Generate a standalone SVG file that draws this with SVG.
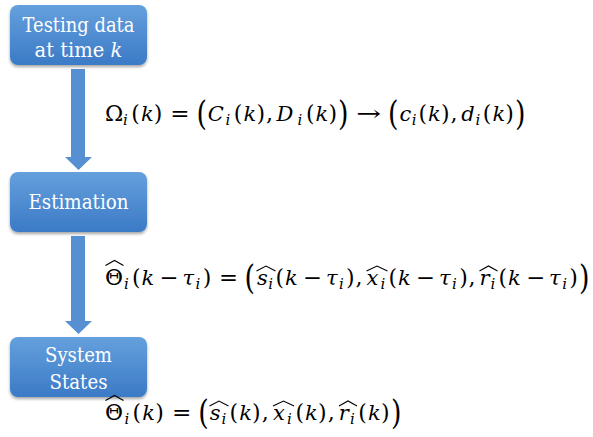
<svg xmlns="http://www.w3.org/2000/svg" width="593" height="437" viewBox="0 0 593 437">
<defs>
<linearGradient id="boxg" x1="0" y1="0" x2="0" y2="1">
<stop offset="0" stop-color="#65a0dd"/>
<stop offset="1" stop-color="#3b7ac6"/>
</linearGradient>
<filter id="sh" x="-10%" y="-10%" width="120%" height="130%">
<feDropShadow dx="0" dy="2" stdDeviation="1.8" flood-color="#000" flood-opacity="0.35"/>
</filter>
</defs>
<style>
text{font-family:"DejaVu Serif",serif}
.box{fill:url(#boxg);filter:url(#sh)}
.bt{font-size:20.5px;fill:#fff;text-anchor:middle}
.arr{fill:#5690d2}
.m{font-size:22px;fill:#000}
.it{font-style:italic;font-size:21px}
.sb{font-size:15px;font-style:italic;fill:#000}
.bp{font-size:33px;fill:#000}
.hat{fill:none;stroke:#000;stroke-width:1.1;stroke-linejoin:miter}
</style>
<rect width="593" height="437" fill="#fff"/>

<g id="connectors">
<polygon class="arr" points="71,69 85,69 85,157 92,157 78.5,170 65,157 71,157"/>
<polygon class="arr" points="71,236 85,236 85,321 92,321 78.5,334 65,321 71,321"/>
</g>

<g id="node-testing">
<rect class="box" x="10" y="5" width="137" height="60" rx="8"/>
<text class="bt" x="78.5" y="32" textLength="112" lengthAdjust="spacingAndGlyphs">Testing data</text>
<text class="bt" x="78.5" y="57" style="font-size:19.5px">at time <tspan font-style="italic">k</tspan></text>
</g>

<g id="node-estimation">
<rect class="box" x="10" y="172" width="137" height="60" rx="8"/>
<text class="bt" x="78.5" y="209" textLength="100" lengthAdjust="spacingAndGlyphs">Estimation</text>
</g>

<g id="node-states">
<rect class="box" x="10" y="337" width="137" height="60" rx="8"/>
<text class="bt" x="78.5" y="362" textLength="67" lengthAdjust="spacingAndGlyphs">System</text>
<text class="bt" x="78.5" y="389" textLength="58" lengthAdjust="spacingAndGlyphs">States</text>
</g>

<g id="formula-omega">
<text class="m" y="121"><tspan x="105">Ω</tspan><tspan x="131.2">(</tspan><tspan class="it" x="141">k</tspan><tspan x="153.7">)</tspan><tspan class="it" x="207.8">C</tspan><tspan x="233.8">(</tspan><tspan class="it" x="243.5">k</tspan><tspan x="256.4">)</tspan><tspan x="266">,</tspan><tspan class="it" x="276.6">D</tspan><tspan x="305.9">(</tspan><tspan class="it" x="315.5">k</tspan><tspan x="328.4">)</tspan><tspan class="it" x="399.4">c</tspan><tspan x="418.4">(</tspan><tspan class="it" x="428">k</tspan><tspan x="440.9">)</tspan><tspan x="450.6">,</tspan><tspan class="it" x="461.3">d</tspan><tspan x="482.8">(</tspan><tspan class="it" x="492.4">k</tspan><tspan x="505.3">)</tspan></text>
<text class="sb" y="124.7"><tspan x="122.9">i</tspan><tspan x="225.6">i</tspan><tspan x="297.6">i</tspan><tspan x="411.8">i</tspan><tspan x="475.5">i</tspan></text>
<text class="m" x="170.3" y="121" textLength="19.3" lengthAdjust="spacingAndGlyphs">=</text>
<text class="m" x="356.3" y="121" textLength="24.8" lengthAdjust="spacingAndGlyphs">→</text>
<text class="bp" x="196.5" y="125.3" textLength="10.5" lengthAdjust="spacingAndGlyphs">(</text>
<text class="bp" x="338.1" y="125.3" textLength="10.5" lengthAdjust="spacingAndGlyphs">)</text>
<text class="bp" x="388" y="125.3" textLength="10.5" lengthAdjust="spacingAndGlyphs">(</text>
<text class="bp" x="515" y="125.3" textLength="10.5" lengthAdjust="spacingAndGlyphs">)</text>
</g>

<g id="formula-theta-tau">
<text class="m" y="285"><tspan x="105">Θ</tspan><tspan x="132.1">(</tspan><tspan class="it" x="141.5">k</tspan><tspan class="it" x="182.5">τ</tspan><tspan x="202.8">)</tspan><tspan class="it" x="256.9">s</tspan><tspan x="275.6">(</tspan><tspan class="it" x="284.9">k</tspan><tspan class="it" x="326">τ</tspan><tspan x="346.1">)</tspan><tspan x="355.6">,</tspan><tspan class="it" x="366.4">x</tspan><tspan x="388.5">(</tspan><tspan class="it" x="398">k</tspan><tspan class="it" x="439">τ</tspan><tspan x="459.2">)</tspan><tspan x="468.6">,</tspan><tspan class="it" x="479.5">r</tspan><tspan x="498.6">(</tspan><tspan class="it" x="508.1">k</tspan><tspan class="it" x="549">τ</tspan><tspan x="569.3">)</tspan></text>
<text class="sb" y="288.7"><tspan x="124">i</tspan><tspan x="195.6">i</tspan><tspan x="268.2">i</tspan><tspan x="339">i</tspan><tspan x="380.4">i</tspan><tspan x="452">i</tspan><tspan x="490.5">i</tspan><tspan x="562.2">i</tspan></text>
<text class="m" x="159.6" y="285" textLength="19" lengthAdjust="spacingAndGlyphs">−</text>
<text class="m" x="219" y="285" textLength="19" lengthAdjust="spacingAndGlyphs">=</text>
<text class="m" x="303" y="285" textLength="19" lengthAdjust="spacingAndGlyphs">−</text>
<text class="m" x="416" y="285" textLength="19" lengthAdjust="spacingAndGlyphs">−</text>
<text class="m" x="526.2" y="285" textLength="19" lengthAdjust="spacingAndGlyphs">−</text>
<text class="bp" x="244.5" y="289.3" textLength="10.5" lengthAdjust="spacingAndGlyphs">(</text>
<text class="bp" x="579" y="289.3" textLength="10.5" lengthAdjust="spacingAndGlyphs">)</text>
<polyline class="hat" points="105.5,265.5 114.5,260.5 123.5,265.5"/>
<polyline class="hat" points="256.5,271 266,266 275.5,271"/>
<polyline class="hat" points="366.5,271 377,266 387.5,271"/>
<polyline class="hat" points="479.5,271 488.5,266 497.5,271"/>
</g>

<g id="formula-theta">
<text class="m" y="420"><tspan x="105">Θ</tspan><tspan x="132.6">(</tspan><tspan class="it" x="142.3">k</tspan><tspan x="155.3">)</tspan><tspan class="it" x="209.8">s</tspan><tspan x="229.5">(</tspan><tspan class="it" x="239.2">k</tspan><tspan x="252.1">)</tspan><tspan x="261.8">,</tspan><tspan class="it" x="272.9">x</tspan><tspan x="295.4">(</tspan><tspan class="it" x="305.1">k</tspan><tspan x="318">)</tspan><tspan x="327.7">,</tspan><tspan class="it" x="338.8">r</tspan><tspan x="358.3">(</tspan><tspan class="it" x="368">k</tspan><tspan x="381">)</tspan></text>
<text class="sb" y="423.7"><tspan x="124.4">i</tspan><tspan x="221.4">i</tspan><tspan x="287.1">i</tspan><tspan x="350">i</tspan></text>
<text class="m" x="171.9" y="420" textLength="19.4" lengthAdjust="spacingAndGlyphs">=</text>
<text class="bp" x="198.2" y="424.3" textLength="10.5" lengthAdjust="spacingAndGlyphs">(</text>
<text class="bp" x="391" y="424.3" textLength="10.5" lengthAdjust="spacingAndGlyphs">)</text>
<polyline class="hat" points="105.5,400.5 114.5,395.5 123.5,400.5"/>
<polyline class="hat" points="209.5,406 219,401 228.5,406"/>
<polyline class="hat" points="273,406 283.5,401 294,406"/>
<polyline class="hat" points="339,406 348,401 357,406"/>
</g>
</svg>
